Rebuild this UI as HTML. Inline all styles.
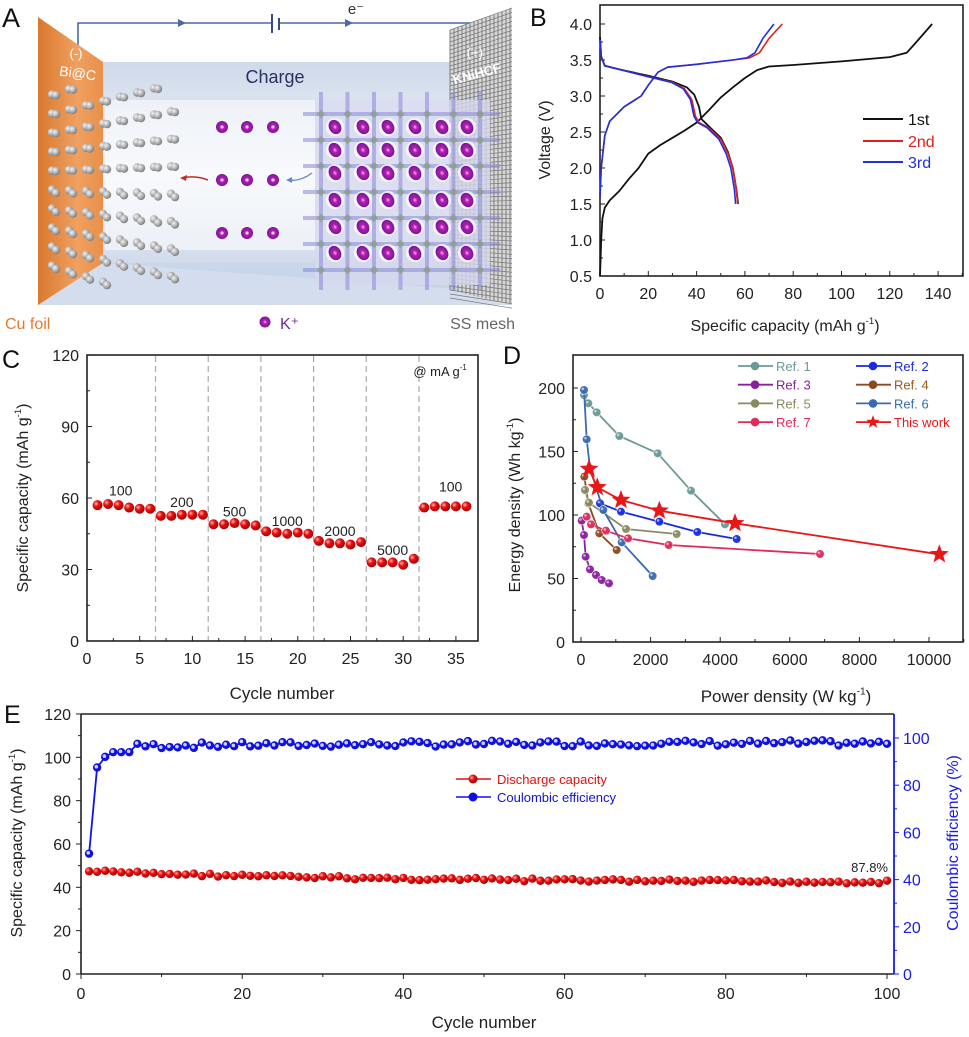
<!DOCTYPE html>
<html><head><meta charset="utf-8">
<style>
html,body{margin:0;padding:0;background:#fff;}
svg{display:block;font-family:"Liberation Sans",Arial,sans-serif;}
</style></head>
<body>
<svg id="s" width="969" height="1037" viewBox="0 0 969 1037" xmlns="http://www.w3.org/2000/svg">
<defs>
<linearGradient id="og" x1="0" x2="1" y1="0" y2="0"><stop offset="0" stop-color="#d9782e"/><stop offset="0.6" stop-color="#f0a060"/><stop offset="1" stop-color="#e8904a"/></linearGradient>
<linearGradient id="bg" x1="0" x2="0" y1="0" y2="1"><stop offset="0" stop-color="#cfd9ea"/><stop offset="0.5" stop-color="#f4f6fa"/><stop offset="1" stop-color="#c6d2e6"/></linearGradient>
<radialGradient id="gs" cx="0.35" cy="0.35" r="0.7"><stop offset="0" stop-color="#f4f4f4"/><stop offset="1" stop-color="#777"/></radialGradient>
<radialGradient id="ks" cx="0.5" cy="0.5" r="0.6"><stop offset="0" stop-color="#ffb0e0"/><stop offset="0.3" stop-color="#b020b0"/><stop offset="1" stop-color="#6a1090"/></radialGradient>
<radialGradient id="rs" cx="0.35" cy="0.35" r="0.7"><stop offset="0" stop-color="#ffb0b0"/><stop offset="0.4" stop-color="#e81010"/><stop offset="1" stop-color="#a00000"/></radialGradient>
</defs>
<g id="A"></g><g id="B"></g><g id="C"></g><g id="D"></g><g id="E"></g>
</svg>
<script>
const NS="http://www.w3.org/2000/svg";
function el(p,t,a,txt){const e=document.createElementNS(NS,t);for(const k in a)e.setAttribute(k,a[k]);if(txt!==undefined)e.textContent=txt;p.appendChild(e);return e;}
function txt(p,x,y,s,o){o=o||{};return el(p,'text',Object.assign({x:x,y:y,'font-size':o.fs||17,fill:o.fill||'#222','text-anchor':o.anchor||'middle'},o.attr||{}),s);}
function sup(p,x,y,a,b,c,fs,attr){const t=el(p,'text',Object.assign({x:x,y:y,'font-size':fs,fill:'#222','text-anchor':'middle'},attr||{}));el(t,'tspan',{},a);el(t,'tspan',{'font-size':fs*0.6,dy:-fs*0.45},b);el(t,'tspan',{dy:fs*0.45},c);return t;}
function pl(p,pts,c,w,extra){return el(p,'polyline',Object.assign({points:pts.map(q=>q[0].toFixed(1)+','+q[1].toFixed(1)).join(' '),fill:'none',stroke:c,'stroke-width':w||1.5,'stroke-linejoin':'round'},extra||{}));}
// ---------- Panel A ----------
const A=document.getElementById('A');
txt(A,2,27,'A',{fs:27,anchor:'start',fill:'#111'});
el(A,'polygon',{points:'103,62 468,62 468,290 103,263',fill:'url(#bg)'});
el(A,'polygon',{points:'38,305 103,263 468,263 512,305',fill:'#c8d4e8',opacity:0.8});
el(A,'rect',{x:105,y:100,width:360,height:150,fill:'#fafbfd',opacity:0.6});
el(A,'polyline',{points:'78,50 78,23 477,23 477,40',fill:'none',stroke:'#4a6aa0','stroke-width':1.6});
el(A,'line',{x1:272,y1:14,x2:272,y2:33,stroke:'#3a4a80','stroke-width':2});
el(A,'line',{x1:279,y1:18,x2:279,y2:30,stroke:'#3a4a80','stroke-width':2});
el(A,'rect',{x:273,y:20,width:5,height:6,fill:'#fff'});
el(A,'polygon',{points:'178,19 186,23 178,27',fill:'#4a6aa0'});
el(A,'polygon',{points:'345,19 353,23 345,27',fill:'#4a6aa0'});
txt(A,356,14,'e⁻',{fs:15,fill:'#333'});
const M=el(A,'g',{});
el(M,'polygon',{points:'450,30 512,8 512,305 450,290',fill:'#d8d8d8'});
for(let x=450;x<=512;x+=4)el(M,'line',{x1:x,y1:30-(x-450)*0.35,x2:x,y2:290+(x-450)*0.24,stroke:'#666','stroke-width':0.8});
for(let y=30;y<=300;y+=4)el(M,'line',{x1:450,y1:y,x2:512,y2:y-22+(y-30)*0.12,stroke:'#777','stroke-width':0.7});
el(A,'polygon',{points:'38,17 103,62 103,263 38,305',fill:'url(#og)'});
// gray spheres fan
for(let r=0;r<10;r++){for(let c=0;c<8;c++){
 const ang=(r-4.5)*0.11;
 const cx=52+c*17, cy=180+(r-4.5)*(19+c*1.2);
 if(cy<88||cy>285)continue;
 el(A,'circle',{cx:cx,cy:cy,r:4.2,fill:'url(#gs)'});
 el(A,'circle',{cx:cx+4,cy:cy+3.5*(r<5?-1:1)*0.4+2,r:4.2,fill:'url(#gs)'});
}}
[127,180,233].forEach(y=>[222,247,273].forEach(x=>{el(A,'circle',{cx:x,cy:y,r:6,fill:'url(#ks)'});el(A,'circle',{cx:x,cy:y,r:1.5,fill:'#ffd0f0'});}));
el(A,'path',{d:'M208,180 Q195,175 182,178',fill:'none',stroke:'#c03020','stroke-width':1.5});
el(A,'polygon',{points:'180,178 187,175 186,181',fill:'#c03020'});
el(A,'path',{d:'M312,173 Q300,182 288,180',fill:'none',stroke:'#6a8ac0','stroke-width':1.4});
el(A,'polygon',{points:'286,180 292,177 292,183',fill:'#6a8ac0'});
const L=el(A,'g',{});
el(L,'rect',{x:315,y:100,width:175,height:185,fill:'#d6d8ee',opacity:0.8});
const xs=[335,363,388,415,442,467], ys=[127,150,173,200,227,253];
for(let i=0;i<7;i++){const x=321+i*26.5;el(L,'line',{x1:x,y1:92,x2:x,y2:290,stroke:'#8a8ad8','stroke-width':4,opacity:0.55});}
for(let i=0;i<7;i++){const y=114+i*26;el(L,'line',{x1:303,y1:y,x2:500,y2:y,stroke:'#8a8ad8','stroke-width':4,opacity:0.55});}
for(let i=0;i<7;i++)for(let j=0;j<7;j++)el(L,'rect',{x:321+i*26.5-3,y:114+j*26-3,width:6,height:6,fill:'#8aa080',opacity:0.7,transform:`rotate(45 ${321+i*26.5} ${114+j*26})`});
ys.forEach(y=>xs.forEach(x=>{el(L,'circle',{cx:x,cy:y,r:9,fill:'#fff',opacity:0.75});el(L,'ellipse',{cx:x,cy:y,rx:6,ry:7.5,fill:'url(#ks)',transform:`rotate(-30 ${x} ${y})`});}));
txt(A,275,83,'Charge',{fs:18,fill:'#2a3060'});
txt(A,77,78,'Bi@C',{fs:14,fill:'#fff',attr:{transform:'rotate(8 77 78)'}});
txt(A,76,58,'(-)',{fs:13,fill:'#fff'});
txt(A,475,57,'(+)',{fs:13,fill:'#fff'});
txt(A,478,78,'KNiHCF',{fs:13,fill:'#fff',attr:{transform:'rotate(-15 478 78)','font-weight':'bold'}});
txt(A,5,329,'Cu foil',{fs:16,fill:'#e07a30',anchor:'start'});
el(A,'circle',{cx:265,cy:322,r:5.5,fill:'url(#ks)'});
txt(A,280,329,'K⁺',{fs:16,fill:'#6a2a90',anchor:'start'});
txt(A,515,329,'SS mesh',{fs:16,fill:'#666',anchor:'end'});

function axes(g,x0,y0,x1,y1){el(g,'rect',{x:x0,y:y0,width:x1-x0,height:y1-y0,fill:'none',stroke:'#222','stroke-width':1.6});}
// ---------- Panel B ----------
const B=document.getElementById('B');
txt(B,530,26,'B',{fs:25,anchor:'start',fill:'#111'});
const bx=c=>600+c*2.415, by=v=>276-(v-0.5)*72;
axes(B,600,5,963,276);
for(let v=0.5;v<=4.01;v+=0.25){const y=by(v);const maj=Math.abs(v*2-Math.round(v*2))<0.01;el(B,'line',{x1:600,y1:y,x2:600+(maj?5:3),y2:y,stroke:'#222'});if(maj)txt(B,592,y+6,v.toFixed(1),{fs:16,anchor:'end'});}
for(let c=0;c<=150;c+=10){const x=bx(c);const maj=c%20==0;el(B,'line',{x1:x,y1:276,x2:x,y2:276-(maj?5:3),stroke:'#222'});if(maj)txt(B,x,299,c,{fs:16});}
sup(B,785,331,'Specific capacity (mAh g','-1',')',16);
txt(B,0,0,'Voltage (V)',{fs:16,attr:{transform:'translate(550 140) rotate(-90)'}});
const ch1=[[0,0.5],[0.5,1.0],[1,1.3],[2,1.45],[4,1.55],[8,1.68],[12,1.85],[16,2.0],[20,2.2],[25,2.32],[30,2.42],[35,2.52],[40,2.63],[45,2.8],[50,2.98],[55,3.12],[60,3.25],[65,3.36],[70,3.41],[80,3.43],[100,3.48],[120,3.54],[127,3.6],[131,3.75],[137.5,4.0]];
const dis1=[[0,3.82],[0.5,3.55],[2,3.42],[8,3.37],[20,3.28],[30,3.2],[36,3.12],[39,3.02],[41,2.85],[42,2.68],[45,2.58],[50,2.42],[53,2.22],[55,2.0],[56.5,1.7],[57.2,1.5]];
const ch2=[[0,1.6],[0.5,2.0],[2,2.45],[4,2.65],[10,2.85],[17,3.0],[20,3.15],[24,3.33],[28,3.4],[40,3.44],[55,3.5],[62,3.53],[66,3.6],[70,3.8],[75.5,4.0]];
const ch3=ch2.map(p=>[p[0]<55?p[0]:55+(p[0]-55)*0.83,p[1]]);
const dis2=[[0,3.78],[0.5,3.55],[2,3.42],[8,3.37],[20,3.27],[30,3.19],[35,3.1],[38,2.95],[39.5,2.72],[41,2.63],[45,2.56],[50,2.4],[53,2.2],[55,2.0],[56.5,1.7],[57,1.5]];
const dis3=dis2.map(p=>[p[0]*0.985,p[1]]);
const T=a=>a.map(p=>[bx(p[0]),by(p[1])]);
pl(B,T(ch1),'#111',1.8);pl(B,T(dis1),'#111',1.8);
pl(B,T(ch2),'#e02020',1.6);pl(B,T(dis2),'#e02020',1.6);
pl(B,T(ch3),'#2030e0',1.6);pl(B,T(dis3),'#2030e0',1.6);
[['1st','#111',125],['2nd','#e02020',147],['3rd','#2030e0',168]].forEach(l=>{el(B,'line',{x1:863,y1:l[2]-6,x2:903,y2:l[2]-6,stroke:l[1],'stroke-width':2});txt(B,908,l[2],l[0],{fs:16,fill:l[1],anchor:'start'});});

// ---------- Panel C ----------
const C=document.getElementById('C');
txt(C,2,368,'C',{fs:25,anchor:'start',fill:'#111'});
const cx=n=>87+n*10.54, cy=v=>641-v*2.383;
axes(C,87,355,478,641);
for(let v=0;v<=120;v+=15){const y=cy(v);el(C,'line',{x1:87,y1:y,x2:87+(v%30==0?5:3),y2:y,stroke:'#222'});if(v%30==0)txt(C,79,y+6,v,{fs:16,anchor:'end'});}
for(let n=0;n<=35;n+=2.5){const x=cx(n);el(C,'line',{x1:x,y1:641,x2:x,y2:641-(n%5==0?5:3),stroke:'#222'});if(n%5==0)txt(C,x,664,n,{fs:16});}
[6.5,11.5,16.5,21.5,26.5,31.5].forEach(n=>el(C,'line',{x1:cx(n),y1:356,x2:cx(n),y2:640,stroke:'#aaa','stroke-dasharray':'6,4','stroke-width':1.2}));
const cd=[57,57.5,57,56,55.5,55.5,52.5,52.5,53,53,53,49,49,49.5,49,48.5,46,45.5,45,45.5,45,42,41,41,40.5,41.5,33,33,33,32,34.5,56,56.5,56.5,56.5,56.5];
cd.forEach((v,i)=>el(C,'circle',{cx:cx(i+1),cy:cy(v),r:5,fill:'url(#rs)'}));
[['100',3.2,62],['200',9,57],['500',14,53],['1000',19,49],['2000',24,45],['5000',29,37],['100',34.5,63.5]].forEach(l=>txt(C,cx(l[1]),cy(l[2])+2,l[0],{fs:14}));
sup(C,440,376,'@ mA g','-1','',13);
txt(C,282,699,'Cycle number',{fs:17});
sup(C,0,0,'Specific capacity (mAh g','-1',')',16,{transform:'translate(28 498) rotate(-90)'});

// ---------- Panel D ----------
const D=document.getElementById('D');
txt(D,503,364,'D',{fs:25,anchor:'start',fill:'#111'});
axes(D,573,355,963,642);
const dy=v=>642-v*1.27, dx=p=>581+p*0.0348;
for(let v=0;v<=200;v+=25){const y=dy(v);el(D,'line',{x1:573,y1:y,x2:573+(v%50==0?5:3),y2:y,stroke:'#222'});if(v%50==0)txt(D,565,y+6,v,{fs:16,anchor:'end'});}
for(let p=0;p<=11000;p+=1000){const x=dx(p);el(D,'line',{x1:x,y1:642,x2:x,y2:642-(p%2000==0?5:3),stroke:'#222'});if(p%2000==0)txt(D,x,665,p,{fs:16});}
sup(D,786,702,'Power density (W kg','-1',')',17);
sup(D,0,0,'Energy density (Wh kg','-1',')',16,{transform:'translate(520 505) rotate(-90)'});
const Z=a=>a.map(p=>[490+p[0]/3,340+p[1]/3]);
const series=[
 ['#6a9a98',[[282,165],[295,190],[320,217],[388,288],[503,340],[603,452],[705,553]],'Ref. 1'],
 ['#1a2ae0',[[330,490],[393,515],[508,545],[622,576],[740,597]],'Ref. 2'],
 ['#8a20a0',[[275,542],[282,585],[287,650],[300,688],[318,705],[335,720],[357,730]],'Ref. 3'],
 ['#8a4a20',[[283,410],[295,490],[328,580],[380,630]],'Ref. 4'],
 ['#8a8a60',[[285,450],[297,488],[408,567],[560,582]],'Ref. 5'],
 ['#3a6ab0',[[282,150],[290,298],[300,385],[340,510],[395,607],[488,708]],'Ref. 6'],
 ['#e02a5a',[[290,530],[303,553],[348,572],[414,595],[536,615],[990,642]],'Ref. 7']];
series.forEach(s=>{const P=Z(s[1]);pl(D,P,s[0],1.8);P.forEach(q=>{el(D,'circle',{cx:q[0],cy:q[1],r:4.3,fill:s[0],stroke:'#fff','stroke-width':0.6,opacity:0.95});el(D,'circle',{cx:q[0]-1.2,cy:q[1]-1.2,r:1.3,fill:'#fff',opacity:0.6});});});
function star(g,x,y,r,c){let pts=[];for(let i=0;i<10;i++){const a=-Math.PI/2+i*Math.PI/5;const rr=i%2?r*0.42:r;pts.push((x+rr*Math.cos(a)).toFixed(1)+','+(y+rr*Math.sin(a)).toFixed(1));}el(g,'polygon',{points:pts.join(' '),fill:c});}
const tw=Z([[297,387],[322,442],[393,480],[508,512],[735,550],[1348,643]]);
pl(D,tw,'#e81818',1.8);tw.forEach(q=>star(D,q[0],q[1],10,'#e81818'));
const leg=[[0,'#6a9a98','Ref. 1',0],[1,'#1a2ae0','Ref. 2',0],[0,'#8a20a0','Ref. 3',1],[1,'#8a4a20','Ref. 4',1],[0,'#8a8a60','Ref. 5',2],[1,'#3a6ab0','Ref. 6',2],[0,'#e02a5a','Ref. 7',3],[1,'#e81818','This work',3]];
leg.forEach(l=>{const x0=l[0]?856:738, y=366+l[3]*18.7;el(D,'line',{x1:x0,y1:y,x2:x0+35,y2:y,stroke:l[1],'stroke-width':1.8});if(l[2]=='This work')star(D,x0+17,y,7,l[1]);else el(D,'circle',{cx:x0+17,cy:y,r:4.3,fill:l[1]});txt(D,x0+38,y+5,l[2],{fs:13,fill:l[1]=='#8a4a20'?'#9a5a20':l[1],anchor:'start'});});

// ---------- Panel E ----------
const E=document.getElementById('E');
txt(E,4,723,'E',{fs:25,anchor:'start',fill:'#111'});
const ex=n=>81+n*8.06, ey=v=>974-v*2.167, ery=v=>974-v*2.36;
el(E,'line',{x1:81,y1:714,x2:894,y2:714,stroke:'#222','stroke-width':1.6});
el(E,'line',{x1:81,y1:714,x2:81,y2:974,stroke:'#222','stroke-width':1.6});
el(E,'line',{x1:81,y1:974,x2:894,y2:974,stroke:'#222','stroke-width':1.6});
el(E,'line',{x1:894,y1:714,x2:894,y2:974,stroke:'#1a1af0','stroke-width':1.8});
for(let v=0;v<=120;v+=10){const y=ey(v);el(E,'line',{x1:81,y1:y,x2:81-(v%20==0?5:3),y2:y,stroke:'#222'});if(v%20==0)txt(E,71,y+6,v,{fs:16,anchor:'end'});}
for(let v=0;v<=100;v+=10){const y=ery(v);el(E,'line',{x1:894,y1:y,x2:894+(v%20==0?5:3),y2:y,stroke:'#1a1af0'});if(v%20==0)txt(E,903,y+6,v,{fs:16,anchor:'start',fill:'#1a1af0'});}
for(let n=0;n<=100;n+=10){const x=ex(n);el(E,'line',{x1:x,y1:974,x2:x,y2:974+(n%20==0?5:3),stroke:'#222'});if(n%20==0)txt(E,x,999,n,{fs:16});}
txt(E,484,1028,'Cycle number',{fs:17});
sup(E,0,0,'Specific capacity (mAh g','-1',')',16,{transform:'translate(22 843) rotate(-90)'});
txt(E,0,0,'Coulombic efficiency (%)',{fs:16,fill:'#1a1af0',attr:{transform:'translate(958 843) rotate(-90)'}});
let seed=7;const rnd=()=>{seed=(seed*9301+49297)%233280;return seed/233280;};
const red=[],blue=[];
for(let n=1;n<=100;n++){red.push([ex(n),ey(47.5-5.5*(1-Math.exp(-n/40))- (rnd()-0.5)*1.4)]);
 let c;if(n==1)c=51;else if(n==2)c=87.5;else if(n==3)c=92;else if(n<7)c=94;else c=96.3+1.6*(1-Math.exp(-n/30))+(rnd()-0.5)*2.4;blue.push([ex(n),ery(c)]);}
pl(E,red,'#e01010',1.5);pl(E,blue,'#1010f0',1.8);
red.forEach(q=>el(E,'circle',{cx:q[0],cy:q[1],r:4.2,fill:'url(#rs)'}));
blue.forEach(q=>{el(E,'circle',{cx:q[0],cy:q[1],r:4.2,fill:'#1010e0'});el(E,'circle',{cx:q[0]-0.8,cy:q[1]-0.8,r:1.8,fill:'#d0d0ff'});});
txt(E,888,872,'87.8%',{fs:13,anchor:'end'});
el(E,'line',{x1:456,y1:779,x2:491,y2:779,stroke:'#e01010','stroke-width':1.6});el(E,'circle',{cx:473,cy:779,r:4.5,fill:'url(#rs)'});
txt(E,497,784,'Discharge capacity',{fs:13,fill:'#e01010',anchor:'start'});
el(E,'line',{x1:456,y1:797,x2:491,y2:797,stroke:'#1010f0','stroke-width':1.6});el(E,'circle',{cx:473,cy:797,r:4.5,fill:'#1010e0'});
txt(E,497,802,'Coulombic efficiency',{fs:13,fill:'#1010e0',anchor:'start'});
</script>
</body></html>
